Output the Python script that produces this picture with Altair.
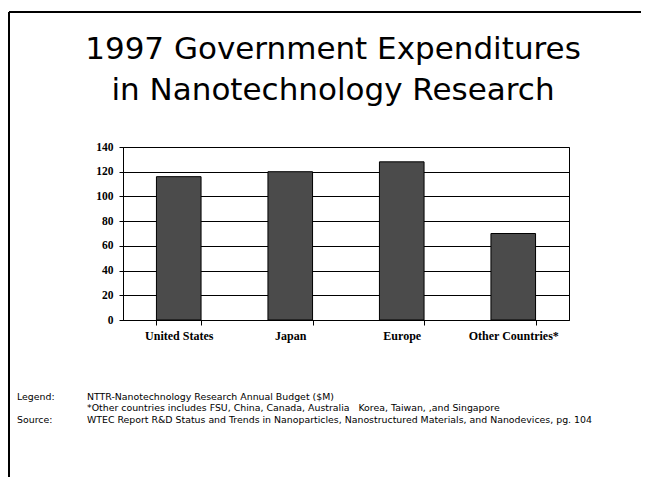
import altair as alt
import pandas as pd

categories = ["United States", "Japan", "Europe", "Other Countries*"]
values = [116, 120, 128, 70]

title_lines = ["1997 Government Expenditures", "in Nanotechnology Research"]
note_labels = ["Legend:", "", "Source:"]
NB = "\u00a0"
note_texts = [
    "NTTR-Nanotechnology Research Annual Budget ($M)",
    NB + "*Other countries includes FSU, China, Canada, Australia" + NB * 3 + "Korea, Taiwan, ,and Singapore",
    "WTEC Report R&D Status and Trends in Nanoparticles, Nanostructured Materials, and Nanodevices, pg. 104",
]

df = pd.DataFrame({"country": categories, "budget": values})
dummy = pd.DataFrame({"k": [0]})

x_enc = alt.X(
    "country:N",
    sort=categories,
    title=None,
    scale=alt.Scale(paddingInner=0.6, paddingOuter=0.3),
    axis=alt.Axis(
        labelAngle=0,
        labelFont="Liberation Serif",
        labelFontWeight="bold",
        labelFontSize=12,
        labelColor="black",
        labelPadding=5,
        tickBand="extent",
        tickSize=5,
        tickColor="black",
        domainColor="black",
        grid=False,
    ),
)
y_enc = alt.Y(
    "budget:Q",
    title=None,
    scale=alt.Scale(domain=[0, 140]),
    axis=alt.Axis(
        values=[0, 20, 40, 60, 80, 100, 120, 140],
        labelFont="Liberation Serif",
        labelFontWeight="bold",
        labelFontSize=11.5,
        labelColor="black",
        labelPadding=6,
        tickSize=4,
        tickColor="black",
        domainColor="black",
        grid=True,
        gridColor="black",
        gridOpacity=1,
        gridWidth=1,
    ),
)

bars = alt.Chart(df).mark_bar(color="#4b4b4b", stroke="black", strokeWidth=1).encode(x=x_enc, y=y_enc)

title1 = alt.Chart(dummy).mark_text(
    font="DejaVu Sans", fontSize=31, color="black", align="center", baseline="alphabetic"
).encode(x=alt.value(210), y=alt.value(-88), text=alt.value(title_lines[0]))
title2 = alt.Chart(dummy).mark_text(
    font="DejaVu Sans", fontSize=31, color="black", align="center", baseline="alphabetic"
).encode(x=alt.value(210), y=alt.value(-47), text=alt.value(title_lines[1]))

note_layers = []
for i, (lab, txt) in enumerate(zip(note_labels, note_texts)):
    yy = [250, 261, 273][i]
    if lab:
        note_layers.append(
            alt.Chart(dummy).mark_text(font="DejaVu Sans", fontSize=9.4, color="black", align="left", baseline="middle")
            .encode(x=alt.value(-106), y=alt.value(yy), text=alt.value(lab))
        )
    note_layers.append(
        alt.Chart(dummy).mark_text(font="DejaVu Sans", fontSize=9.4, color="black", align="left", baseline="middle")
        .encode(x=alt.value(-36), y=alt.value(yy), text=alt.value(txt))
    )

frame_top = alt.Chart(dummy).mark_rule(color="black", strokeWidth=2).encode(
    x=alt.value(-114), x2=alt.value(540), y=alt.value(-135)
)
frame_left = alt.Chart(dummy).mark_rule(color="black", strokeWidth=2).encode(
    x=alt.value(-114), y=alt.value(-135), y2=alt.value(340)
)

chart = alt.layer(bars, title1, title2, frame_top, frame_left, *note_layers).properties(
    width=446,
    height=173,
    autosize=alt.AutoSizeParams(type="none"),
    padding={"left": 115, "top": 139, "right": 72, "bottom": 157},
    background="white",
).configure_view(stroke="black", strokeWidth=1)

chart.save("out.html", embed_options={"renderer": "svg", "actions": False})
